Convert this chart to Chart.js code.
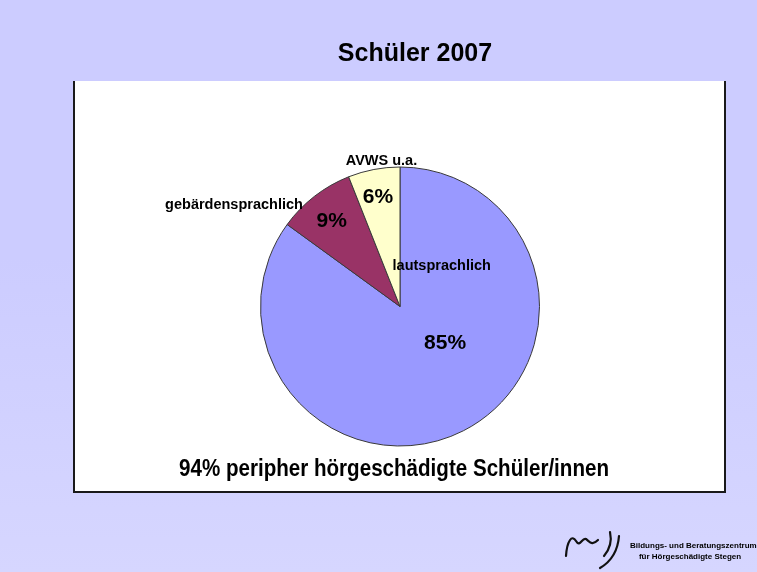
<!DOCTYPE html>
<html lang="de">
  <head>
    <meta charset="UTF-8" />
    <title>Schüler 2007</title>
    <script src="https://cdn.jsdelivr.net/npm/chart.js"></script>
    <style>
      html, body { margin: 0; padding: 0; background: #ccccff; }
      #wrap { width: 757px; height: 572px; }
    </style>
  </head>
  <body>
    <div id="wrap"><canvas id="pieChart" width="757" height="572"></canvas></div>

    <script>
      const categories = ["lautsprachlich", "gebärdensprachlich", "AVWS u.a."];
      const shares = [85, 9, 6];
      const sliceColors = ["#9999ff", "#993366", "#ffffcc"];
      const chartTitle = "Schüler 2007";
      const footnote = "94% peripher hörgeschädigte Schüler/innen";

      // label placement, in units of the pie radius, relative to the centre
      const percentOffsets = [[0.323, 0.26], [-0.49, -0.608], [-0.158, -0.787]];
      const nameOffsets = [[0.299, -0.29], [-1.19, -0.728], [-0.133, -1.045]];

      const pageDecor = {
        id: "pageDecor",
        beforeDraw(chart) {
          const ctx = chart.ctx;
          ctx.save();
          const grad = ctx.createLinearGradient(0, 0, 0, 572);
          grad.addColorStop(0, "#ccccff");
          grad.addColorStop(0.45, "#ccccff");
          grad.addColorStop(1, "#d6d6ff");
          ctx.fillStyle = grad;
          ctx.fillRect(0, 0, 757, 572);
          // white plot box
          ctx.fillStyle = "#ffffff";
          ctx.fillRect(73, 81, 653, 412);
          ctx.strokeStyle = "#1a1a1a";
          ctx.lineWidth = 2;
          ctx.beginPath();
          ctx.moveTo(74, 81);
          ctx.lineTo(74, 492);
          ctx.lineTo(725, 492);
          ctx.lineTo(725, 81);
          ctx.stroke();
          ctx.restore();
        },
        afterDraw(chart) {
          const ctx = chart.ctx;
          const meta = chart.getDatasetMeta(0);
          const values = chart.data.datasets[0].data;
          const total = values.reduce((a, b) => a + b, 0);
          ctx.save();
          ctx.fillStyle = "#000";
          ctx.textAlign = "center";
          ctx.textBaseline = "middle";

          meta.data.forEach((arc, i) => {
            const r = arc.outerRadius;
            ctx.font = "bold 21px 'Liberation Sans', Arial, sans-serif";
            ctx.fillText(
              Math.round((values[i] / total) * 100) + "%",
              arc.x + percentOffsets[i][0] * r,
              arc.y + percentOffsets[i][1] * r
            );
            ctx.font = "bold 14.5px 'Liberation Sans', Arial, sans-serif";
            ctx.fillText(
              chart.data.labels[i],
              arc.x + nameOffsets[i][0] * r,
              arc.y + nameOffsets[i][1] * r
            );
          });

          // title
          ctx.font = "bold 25px 'Liberation Sans', Arial, sans-serif";
          ctx.fillText(chartTitle, 415, 54);

          // footnote, condensed
          ctx.font = "bold 21px 'Liberation Sans', Arial, sans-serif";
          const w = ctx.measureText(footnote).width;
          ctx.save();
          ctx.translate(394, 470);
          ctx.scale(430 / w, 1.1);
          ctx.fillText(footnote, 0, 0);
          ctx.restore();

          // logo
          ctx.strokeStyle = "#111";
          ctx.lineWidth = 2.2;
          ctx.lineCap = "round";
          ctx.beginPath();
          ctx.moveTo(566, 556);
          ctx.bezierCurveTo(567, 541, 572, 534, 576, 541);
          ctx.bezierCurveTo(580, 548, 582, 537, 586, 539);
          ctx.bezierCurveTo(590, 542, 592, 546, 598, 540);
          ctx.stroke();
          ctx.beginPath();
          ctx.moveTo(604, 556);
          ctx.bezierCurveTo(610, 549, 612, 541, 610, 532);
          ctx.stroke();
          ctx.beginPath();
          ctx.moveTo(600, 568);
          ctx.bezierCurveTo(612, 561, 618, 549, 619, 536);
          ctx.stroke();

          ctx.font = "bold 8px 'Liberation Sans', Arial, sans-serif";
          ctx.textAlign = "left";
          ctx.fillText("Bildungs- und Beratungszentrum", 630, 546);
          ctx.textAlign = "center";
          ctx.fillText("für Hörgeschädigte Stegen", 690, 557);
          ctx.restore();
        }
      };

      new Chart(document.getElementById("pieChart"), {
        type: "pie",
        data: {
          labels: categories,
          datasets: [
            {
              data: shares,
              backgroundColor: sliceColors,
              borderColor: "#3a3a3a",
              borderWidth: 1
            }
          ]
        },
        options: {
          responsive: false,
          animation: false,
          layout: { padding: { left: 260, right: 217, top: 166, bottom: 125 } },
          plugins: {
            legend: { display: false },
            tooltip: { enabled: false }
          }
        },
        plugins: [pageDecor]
      });
    </script>
  </body>
</html>
